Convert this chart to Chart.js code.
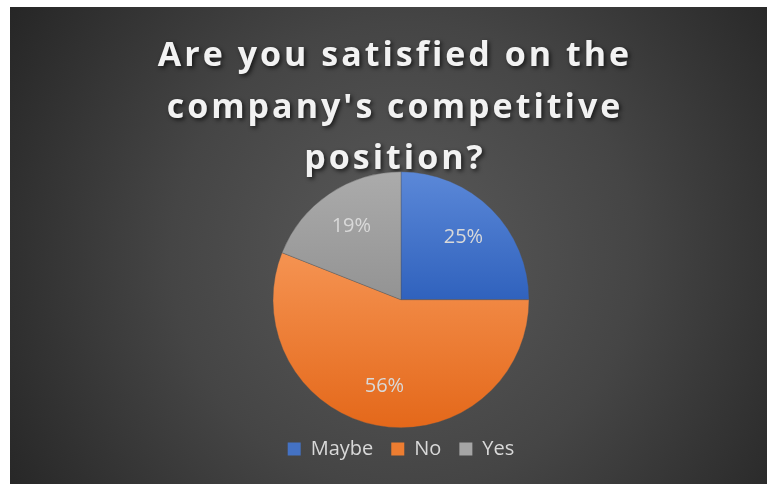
<!DOCTYPE html>
<html>
<head>
<meta charset="utf-8">
<script src="https://cdn.jsdelivr.net/npm/chart.js@4/dist/chart.umd.min.js"></script>
<style>
  html, body { margin: 0; padding: 0; background: #ffffff; }
  #frame {
    position: absolute; left: 10px; top: 7px; width: 757px; height: 477px;
    background: radial-gradient(circle farthest-corner at 52% 52%, #5a5a5a 0%, #454545 50%, #262626 100%);
  }
  canvas { display: block; }
</style>
</head>
<body>
<div id="frame"><canvas id="chart"></canvas></div>
<script>
const titleLines = ["Are you satisfied on the", "company's competitive", "position?"];
const categories = ["Maybe", "No", "Yes"];
const shares = [25, 56, 19];

// Each slice gets a soft vertical gradient, spread over the pie's full height.
const sliceShades = [
  [[0.0, '#5b88d8'], [0.5, '#3062bd']],
  [[0.35, '#f4914f'], [1.0, '#e4681a']],
  [[0.0, '#ababab'], [0.5, '#939393']]
];
const flatColors = ['#4472c4', '#ed7d31', '#a5a5a5'];
const PIE_RADIUS = 128;

function sliceFill(ctx) {
  const area = ctx.chart.chartArea;
  if (!area) return flatColors[ctx.dataIndex];
  const cy = (area.top + area.bottom) / 2;
  const g = ctx.chart.ctx.createLinearGradient(0, cy - PIE_RADIUS, 0, cy + PIE_RADIUS);
  sliceShades[ctx.dataIndex].forEach(([stop, c]) => g.addColorStop(stop, c));
  return g;
}

// Spaced, shadowed title text.
const titleStyle = {
  id: 'titleStyle',
  beforeDraw(chart) {
    const block = chart.titleBlock;
    if (!block || block._styled) return;
    const base = block.draw.bind(block);
    block.draw = function () {
      const c = chart.ctx;
      c.save();
      c.translate(-6, 0);
      c.letterSpacing = '3px';
      c.shadowColor = 'rgba(0,0,0,0.65)';
      c.shadowBlur = 4;
      c.shadowOffsetX = 2;
      c.shadowOffsetY = 2;
      base();
      c.restore();
    };
    block._styled = true;
  }
};

// Percentage labels inside the slices.
const sliceLabels = {
  id: 'sliceLabels',
  afterDatasetsDraw(chart) {
    const c = chart.ctx;
    const meta = chart.getDatasetMeta(0);
    c.save();
    c.font = '20px "Open Sans"';
    c.fillStyle = '#d9d9d9';
    c.textAlign = 'center';
    c.textBaseline = 'middle';
    meta.data.forEach((arc, i) => {
      const p = arc.getProps(['x', 'y', 'startAngle', 'endAngle', 'outerRadius'], true);
      const mid = (p.startAngle + p.endAngle) / 2;
      const d = p.outerRadius * 0.69;
      c.fillText(shares[i] + '%', p.x + Math.cos(mid) * d, p.y + Math.sin(mid) * d);
    });
    c.restore();
  }
};

new Chart(document.getElementById('chart'), {
  type: 'pie',
  data: {
    labels: categories,
    datasets: [{
      data: shares,
      backgroundColor: sliceFill,
      borderColor: 'rgba(80,80,80,0.6)',
      borderWidth: 0.6
    }]
  },
  options: {
    responsive: true,
    maintainAspectRatio: false,
    animation: false,
    radius: PIE_RADIUS,
    layout: { padding: { top: 0, bottom: 15, left: 25, right: 0 } },
    plugins: {
      title: {
        display: true,
        text: titleLines,
        color: '#f2f2f2',
        font: { family: '"Open Sans"', weight: 'bold', size: 34, lineHeight: 1.515 },
        padding: { top: 24, bottom: -7 }
      },
      legend: {
        position: 'bottom',
        labels: {
          color: '#d9d9d9',
          font: { family: '"Open Sans"', size: 20 },
          boxWidth: 13,
          boxHeight: 13,
          padding: 18,
          generateLabels(chart) {
            return categories.map((name, i) => ({
              text: name,
              fillStyle: flatColors[i],
              strokeStyle: flatColors[i],
              lineWidth: 0,
              fontColor: '#d9d9d9',
              index: i
            }));
          }
        }
      },
      tooltip: { enabled: false }
    }
  },
  plugins: [titleStyle, sliceLabels]
});
</script>
</body>
</html>
